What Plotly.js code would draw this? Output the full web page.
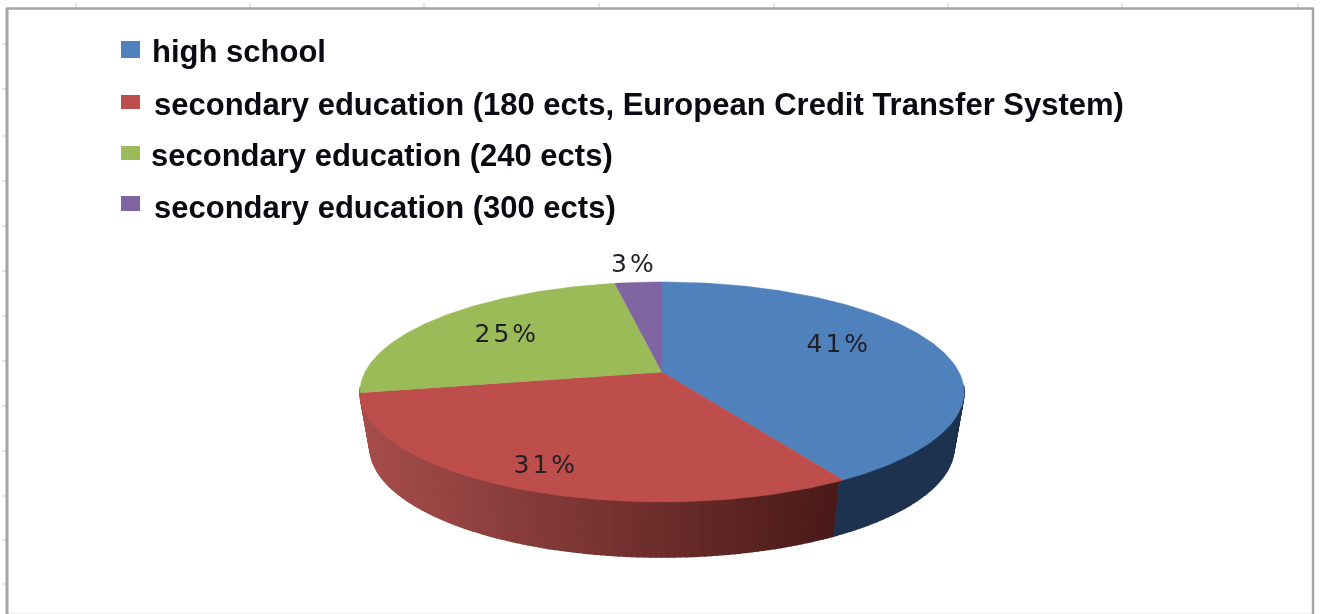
<!DOCTYPE html>
<html>
<head>
<meta charset="utf-8">
<script src="https://cdn.plot.ly/plotly-3.0.1.min.js"></script>
<style>
html,body{margin:0;padding:0;background:#fff;overflow:hidden}
#chart{width:1322px;height:614px;filter:blur(0.7px)}
</style>
</head>
<body>
<div id="chart"></div>
<script>
// ---- data ----
const categories = [
  "high school",
  "secondary education (180 ects, European Credit Transfer System)",
  "secondary education (240 ects)",
  "secondary education (300 ects)"
];
const values = [41.4, 30.6, 25, 3];
const sliceColors = ["#4f81bd", "#bd4e4b", "#9bbb59", "#8064a2"];

// ---- legend and label placement (page pixels) ----
const legendTextX = [150, 152, 149, 152];
const legendTextY = [51, 104, 155, 207];
const legendBoxY = [[41, 58], [95, 109], [146, 160], [196, 211]];
const labelX = [839, 546, 507, 634];
const labelY = [343, 464, 333, 263];

// ---- view of the tilted disc ----
const hub = {x: 662, y: 372};
const persp = 0.1818, radX = 297, radY = 106.4;
const depth = 55, bottomShrink = 0.967;
const total = values.reduce((a, b) => a + b, 0);

function project(deg, f, lower) {
  const t = deg * Math.PI / 180;
  const u = Math.sin(t) * f, v = Math.cos(t) * f;
  const w = 1 + persp * v;
  const s = lower ? bottomShrink : 1;
  return [hub.x + s * radX * u / w, hub.y + (lower ? depth : 0) - radY * v / w];
}
function mix(a, b, t) {
  return "rgb(" + a.map((c, i) => Math.round(c + (b[i] - c) * t)).join(",") + ")";
}

const traces = [];
let acc = 0;
const bounds = values.map(v => { const s = acc; acc += v; return [s / total * 360, acc / total * 360]; });

// side wall, one strip per step, from the slice boundaries
const wallStart = 97, wallEnd = 262, step = 1;
const blueWall = "#1d3350";
const redLeft = [166, 78, 75], redRight = [74, 26, 24];
for (let a = wallStart; a < wallEnd; a += step) {
  const b = a + step;
  const p = [project(a, 1, false), project(b, 1, false), project(b, 1, true), project(a, 1, true)];
  const col = a < bounds[0][1]
    ? blueWall
    : mix(redLeft, redRight, Math.max(0, Math.min(1, (p[0][0] - 360) / 478)));
  traces.push({
    type: "scatter", mode: "lines", fill: "toself",
    x: p.map(q => q[0]).concat(p[0][0]), y: p.map(q => q[1]).concat(p[0][1]),
    fillcolor: col, line: {color: col, width: 1.5},
    showlegend: false, hoverinfo: "skip"
  });
}

// top face: one wedge per value
categories.forEach((name, i) => {
  const xs = [hub.x], ys = [hub.y];
  const [s, e] = bounds[i];
  const n = Math.max(2, Math.ceil(e - s));
  for (let k = 0; k <= n; k++) {
    const q = project(s + (e - s) * k / n, 1, false);
    xs.push(q[0]); ys.push(q[1]);
  }
  xs.push(hub.x); ys.push(hub.y);
  traces.push({
    type: "scatter", mode: "lines", fill: "toself", name,
    x: xs, y: ys, fillcolor: sliceColors[i],
    line: {color: sliceColors[i], width: 0.5},
    text: name + ": " + Math.round(values[i]) + "%", hoverinfo: "text", showlegend: false
  });
});

// frame and its faint tick marks
const frameColor = "#a6a6a6", tickColor = "#dcdcdc";
const topTicks = [76, 250, 424, 599, 774, 948, 1122, 1298];
const leftTicks = [44, 89, 136, 181, 226, 271, 316, 361, 406, 451, 496, 540, 584];
const shapes = [];
const line = (x0, y0, x1, y1, color, width) =>
  ({type: "line", xref: "x", yref: "y", x0, y0, x1, y1, line: {color, width}, layer: "below"});
topTicks.forEach(x => shapes.push(line(x, 3, x, 8, tickColor, 1.5)));
leftTicks.forEach(y => shapes.push(line(2, y, 7, y, tickColor, 1.5)));
shapes.push(line(7, 8, 7, 614, frameColor, 3));
shapes.push(line(6, 8.5, 1314, 8.5, frameColor, 2.5));
shapes.push(line(1313, 8, 1313, 614, frameColor, 2.5));
shapes.push(line(9, 613, 1312, 613, "#eeeeee", 1));
categories.forEach((c, i) => shapes.push({
  type: "rect", xref: "x", yref: "y", x0: 121, x1: 140,
  y0: legendBoxY[i][0], y1: legendBoxY[i][1],
  fillcolor: sliceColors[i], line: {width: 0}
}));

const annotations = [];
categories.forEach((c, i) => annotations.push({
  text: c, xref: "x", yref: "y", x: legendTextX[i], y: legendTextY[i],
  xanchor: "left", yanchor: "middle", showarrow: false,
  font: {family: "Liberation Sans, Arial, sans-serif", size: 31, color: "#0a0a12", weight: 700}
}));
values.forEach((v, i) => annotations.push({
  text: Math.round(v) + "%", xref: "x", yref: "y", x: labelX[i], y: labelY[i],
  xanchor: "center", yanchor: "middle", showarrow: false,
  font: {family: "DejaVu Sans, sans-serif", size: 25, color: "#202028"}
}));

const layout = {
  width: 1322, height: 614,
  margin: {l: 0, r: 0, t: 0, b: 0},
  paper_bgcolor: "#ffffff", plot_bgcolor: "#ffffff",
  showlegend: false,
  xaxis: {range: [0, 1322], visible: false, fixedrange: true},
  yaxis: {range: [614, 0], visible: false, fixedrange: true},
  shapes, annotations
};
Plotly.newPlot("chart", traces, layout, {displayModeBar: false, staticPlot: true}).then(() => {
  document.querySelectorAll(".annotation-text").forEach(t => {
    if (/%$/.test(t.textContent)) t.style.letterSpacing = "3px";
  });
});
</script>
</body>
</html>
